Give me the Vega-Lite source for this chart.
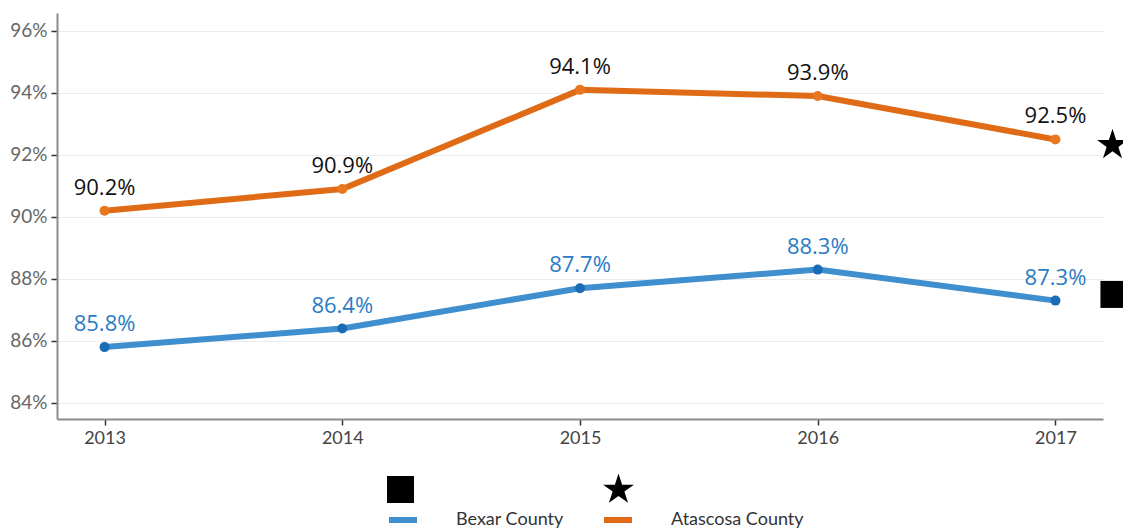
{
  "$schema": "https://vega.github.io/schema/vega-lite/v6.json",
  "width": 1046,
  "height": 406,
  "autosize": "none",
  "padding": {"left": 57, "top": 13, "right": 20, "bottom": 110},
  "background": "white",
  "config": {
    "view": {"stroke": null},
    "font": "Lato",
    "axis": {"labelFont": "Lato"}
  },
  "datasets": {
    "series": [
      {"county": "Bexar County", "year": 2013, "value": 85.8, "label": "85.8%"},
      {"county": "Bexar County", "year": 2014, "value": 86.4, "label": "86.4%"},
      {"county": "Bexar County", "year": 2015, "value": 87.7, "label": "87.7%"},
      {"county": "Bexar County", "year": 2016, "value": 88.3, "label": "88.3%"},
      {"county": "Bexar County", "year": 2017, "value": 87.3, "label": "87.3%"},
      {"county": "Atascosa County", "year": 2013, "value": 90.2, "label": "90.2%"},
      {"county": "Atascosa County", "year": 2014, "value": 90.9, "label": "90.9%"},
      {"county": "Atascosa County", "year": 2015, "value": 94.1, "label": "94.1%"},
      {"county": "Atascosa County", "year": 2016, "value": 93.9, "label": "93.9%"},
      {"county": "Atascosa County", "year": 2017, "value": 92.5, "label": "92.5%"}
    ],
    "markers": [
      {"target": "Bexar", "year": 2017.246, "value": 87.5},
      {"target": "Atascosa", "year": 2017.24, "value": 92.32}
    ]
  },
  "layer": [
    {
      "data": {"name": "series"},
      "mark": {"type": "line", "strokeWidth": 6},
      "encoding": {
        "x": {
          "field": "year", "type": "quantitative",
          "scale": {"domain": [2012.8, 2017.2], "nice": false, "zero": false},
          "axis": {
            "title": null, "values": [2013, 2014, 2015, 2016, 2017], "format": "d",
            "grid": false, "domainColor": "#8c8c8c", "domainWidth": 2,
            "tickColor": "#333", "tickSize": 6, "tickWidth": 1.5,
            "labelColor": "#444", "labelFontSize": 18, "labelPadding": 4
          }
        },
        "y": {
          "field": "value", "type": "quantitative",
          "scale": {"domain": [83.48, 96.58], "nice": false, "zero": false},
          "axis": {
            "title": null, "values": [84, 86, 88, 90, 92, 94, 96],
            "labelExpr": "datum.value + '%'",
            "grid": true, "gridColor": "#ececec", "gridWidth": 1,
            "domainColor": "#8c8c8c", "domainWidth": 2,
            "tickColor": "#333", "tickSize": 6, "tickWidth": 1.5,
            "labelColor": "#666", "labelFontSize": 19, "labelPadding": 4
          }
        },
        "color": {
          "field": "county", "type": "nominal",
          "scale": {"domain": ["Bexar County", "Atascosa County"], "range": ["#3f8fcf", "#e06b16"]},
          "legend": {
            "title": null, "orient": "none", "direction": "horizontal",
            "legendX": 329, "legendY": 490,
            "symbolType": "stroke", "symbolStrokeWidth": 6, "symbolSize": 784,
            "labelOffset": 36, "labelFontSize": 18, "labelColor": "#333",
            "columnPadding": 28, "labelLimit": 300
          }
        }
      }
    },
    {
      "data": {"name": "series"},
      "mark": {"type": "point", "filled": true, "size": 100, "opacity": 1},
      "encoding": {
        "x": {"field": "year", "type": "quantitative"},
        "y": {"field": "value", "type": "quantitative"},
        "color": {
          "condition": {"test": "datum.county === 'Bexar County'", "value": "#1a6db5"},
          "value": "#e8781f"
        }
      }
    },
    {
      "data": {"name": "series"},
      "mark": {"type": "text", "dy": -23, "fontSize": 22, "font": "Open Sans"},
      "encoding": {
        "x": {"field": "year", "type": "quantitative"},
        "y": {"field": "value", "type": "quantitative"},
        "text": {"field": "label"},
        "color": {
          "condition": {"test": "datum.county === 'Bexar County'", "value": "#2a7cc4"},
          "value": "#111"
        }
      }
    },
    {
      "data": {"name": "markers"},
      "mark": {"type": "point", "filled": true, "size": 729, "opacity": 1, "clip": false, "color": "black"},
      "encoding": {
        "x": {"field": "year", "type": "quantitative"},
        "y": {"field": "value", "type": "quantitative"},
        "shape": {
          "field": "target", "type": "nominal",
          "scale": {
            "domain": ["Bexar", "Atascosa"],
            "range": ["square", "M0,-1.2L0.2694,-0.3708L1.1412,-0.3708L0.4356,0.1416L0.7056,0.9708L0,0.4584L-0.7056,0.9708L-0.4356,0.1416L-1.1412,-0.3708L-0.2694,-0.3708Z"]
          },
          "legend": {
            "title": null, "orient": "none", "direction": "horizontal",
            "legendX": 330, "legendY": 463,
            "symbolSize": 729, "symbolFillColor": "black", "symbolStrokeWidth": 0,
            "labelExpr": "''", "labelOffset": 0, "columnPadding": 189
          }
        }
      }
    }
  ]
}
